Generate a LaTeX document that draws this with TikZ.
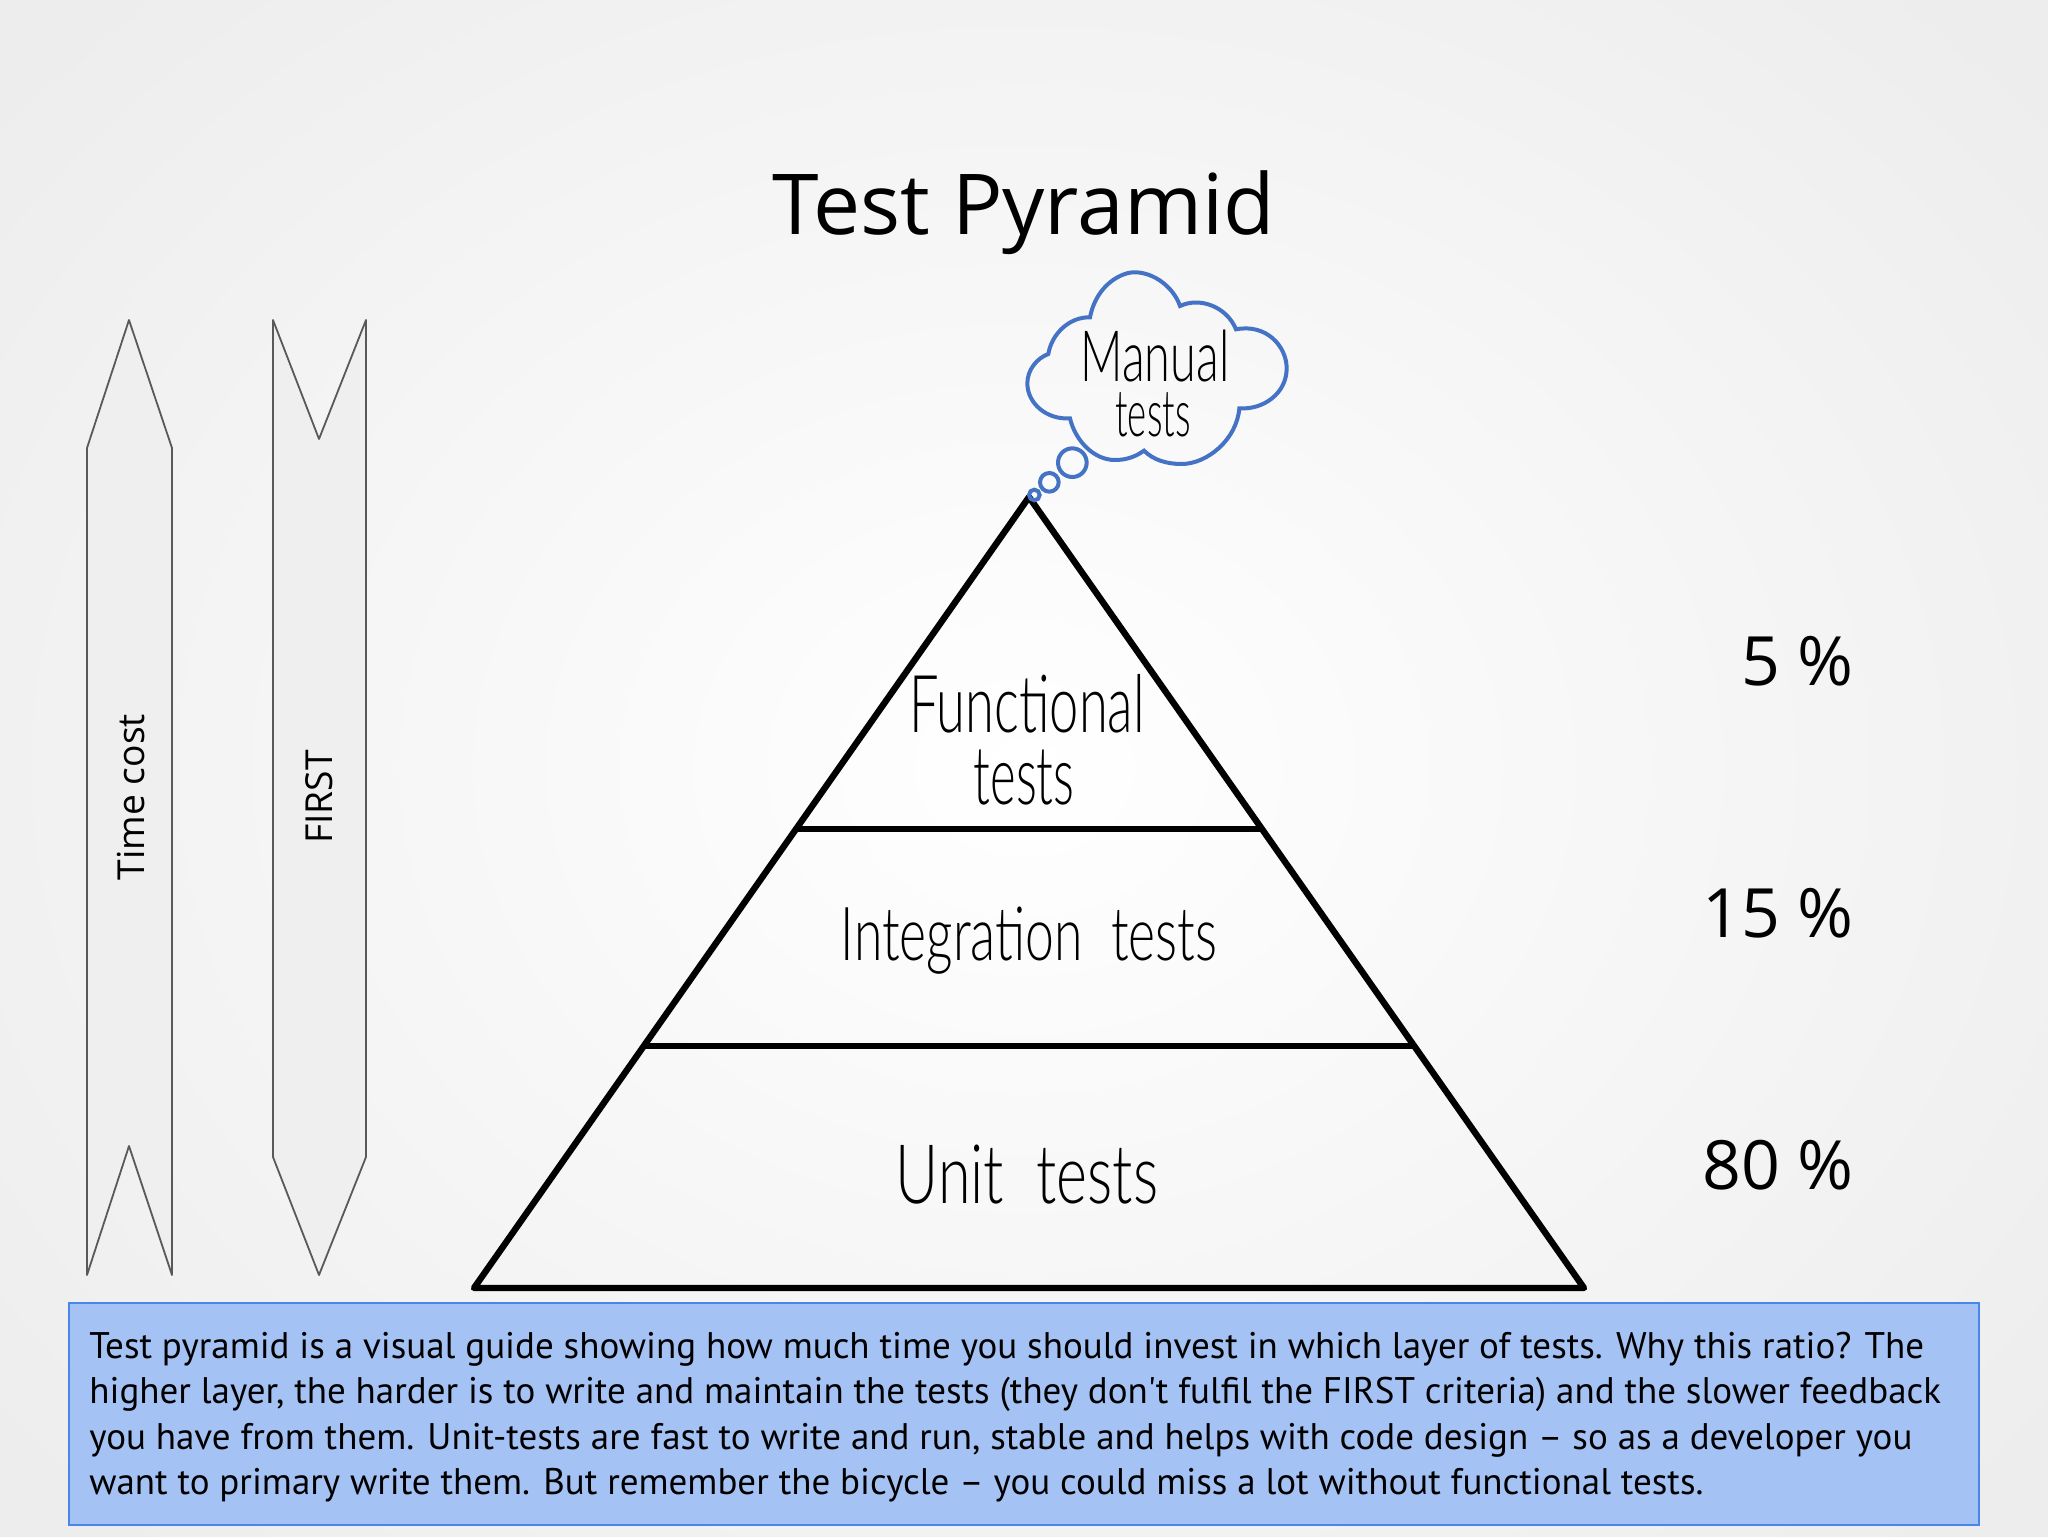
\documentclass[tikz,border=0pt]{standalone}
\usepackage{fontspec}
\setmainfont{PT Sans}
\newfontfamily\titlefont{Open Sans}
\newfontfamily\handfont{Lato Light}
\usetikzlibrary{calc}
\definecolor{slidegray}{HTML}{EDEDED}
\definecolor{notefill}{HTML}{A4C2F4}
\definecolor{noteline}{HTML}{4A86E8}
\definecolor{cloudline}{HTML}{4472C4}
\definecolor{ribbonfill}{HTML}{EFEFEF}
\definecolor{ribbonline}{HTML}{595959}
\def\handtext#1#2#3{\scalebox{#2}[#3]{\handfont #1}}
\tikzset{
	pyramidline/.style={line width=3.2pt, line join=round},
	ribbon/.style={draw=ribbonline, fill=ribbonfill, line width=0.9pt, line join=round},
	cloudstroke/.style={draw=cloudline, line width=2pt},
	share/.style={anchor=base east, font=\titlefont\fontsize{34}{34}\selectfont},
	sidetext/.style={rotate=90, font=\titlefont\fontsize{18.6}{19}\selectfont},
	hand/.style={inner sep=0pt, font=\fontsize{38}{38}\selectfont}
}
\begin{document}
\begin{tikzpicture}[x=0.5pt, y=-0.5pt]
			%%%%% BACKGROUND %%%%%
			\useasboundingbox (0, 0) rectangle (2048, 1536);
			\shade[inner color=white, outer color=slidegray] (-300, -300) rectangle (2348, 1836);
			\clip (0, 0) rectangle (2048, 1536);
			
			\node[anchor=base, font=\titlefont\fontsize{42}{42}\selectfont, inner sep=0pt] (title) at (1024, 234) {Test Pyramid};
			
			%%%%% RIBBONS %%%%%
			\draw[ribbon] (129, 320) -- (172, 448) -- (172, 1275) -- (129, 1146) -- (87, 1275) -- (87, 448) -- cycle;
			\draw[ribbon] (273, 320) -- (319, 439) -- (366, 320) -- (366, 1157) -- (319, 1275) -- (273, 1157) -- cycle;
			\node[sidetext] (timecost) at (131, 797) {Time cost};
			\node[sidetext] (first) at (319, 797) {FIRST};
			
			%%%%% PYRAMID %%%%%
			\draw[pyramidline] (1029, 497) -- (1584, 1288) -- (474, 1288) -- cycle;
			\draw[pyramidline] (798, 829) -- (1262, 829);
			\draw[pyramidline] (646, 1046) -- (1414, 1046);
			
			\node[hand] (functional) at (1027, 704) {\handtext{Functional}{0.69}{1.05}};
			\node[hand] (functests) at (1024, 777) {\handtext{tests}{0.645}{1.07}};
			\node[hand] (integration) at (1029, 941) {\handtext{Integration\ \ tests}{0.68}{0.98}};
			\node[hand] (unit) at (1027, 1175) {\handtext{Unit\ \ tests}{0.78}{1.08}};
			
			%%%%% CLOUD %%%%%
			\begin{scope}[shift={(950, 240)}, scale=1/3]
				\draw[cloudstroke] (295, 342) .. controls (305, 280) and (360, 230) .. (420, 232)
					.. controls (440, 130) and (520, 95) .. (555, 97)
					.. controls (610, 97) and (670, 140) .. (690, 198)
					.. controls (750, 170) and (830, 200) .. (858, 268)
					.. controls (950, 250) and (1010, 320) .. (1010, 385)
					.. controls (1010, 460) and (940, 510) .. (868, 505)
					.. controls (860, 600) and (770, 672) .. (695, 672)
					.. controls (650, 672) and (610, 660) .. (582, 632)
					.. controls (550, 655) and (520, 660) .. (495, 660)
					.. controls (430, 660) and (375, 600) .. (360, 535)
					.. controls (290, 540) and (232, 490) .. (232, 430)
					.. controls (232, 390) and (260, 355) .. (295, 342) -- cycle;
				\draw[cloudstroke] (367, 668) circle (43);
				\draw[cloudstroke] (298, 727) circle (28);
				\draw[cloudstroke] (253, 765) circle (16);
			\end{scope}
			\node[hand, font=\fontsize{30}{30}\selectfont] (manual) at (1155, 356) {\handtext{Manual}{0.78}{1.18}};
			\node[hand, font=\fontsize{30}{30}\selectfont] (manualtests) at (1153, 415) {\handtext{tests}{0.61}{1.09}};
			
			%%%%% SHARES %%%%%
			\node[share, inner sep=0pt] (fivepct) at (1854, 685) {5 \%};
			\node[share, inner sep=0pt] (fifteenpct) at (1854, 937) {15 \%};
			\node[share, inner sep=0pt] (eightypct) at (1854, 1189) {80 \%};
			
			%%%%% NOTE %%%%%
			\draw[fill=notefill, draw=noteline, line width=1pt] (69, 1303) rectangle (1979, 1525);
			\node[anchor=west, inner sep=0pt, align=left, font=\fontsize{18.5}{22.7}\selectfont] (note) at (89, 1417) {Test pyramid is a visual guide showing how much time you should invest in which layer of tests. Why this ratio? The\\
			higher layer, the harder is to write and maintain the tests (they don\textquotesingle t fulfil the FIRST criteria) and the slower feedback\\
			you have from them. Unit-tests are fast to write and run, stable and helps with code design – so as a developer you\\
			want to primary write them. But remember the bicycle – you could miss a lot without functional tests.};
\end{tikzpicture}
\end{document}
